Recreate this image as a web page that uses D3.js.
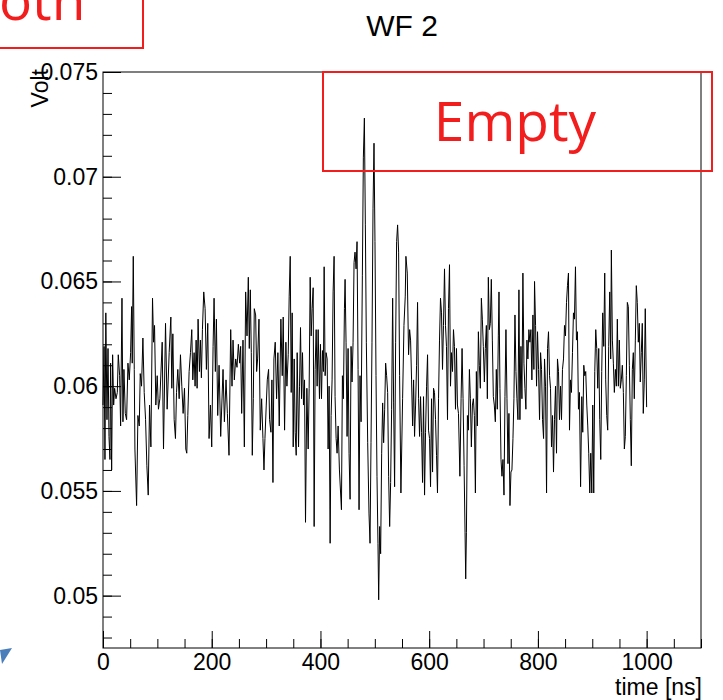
<!DOCTYPE html>
<html>
<head>
<meta charset="utf-8">
<script src="https://cdn.jsdelivr.net/npm/d3@7"></script>
<style>
  body { margin: 0; background: #fff; }
  svg { display: block; }
</style>
</head>
<body>
<svg width="723" height="700"></svg>
<script>
// samples: [time in ns, amplitude in mV]
const waveform = [
  [0, 59.1], [2, 61.9], [3.6, 56.5], [5.2, 63.5], [7.3, 58.4], [9.2, 61.8], [11, 57.6], [12.8, 56.5], [14, 61.1], [15.9, 56.0],
  [17.7, 61.5], [19.6, 59.1], [21.4, 59.9], [23.9, 59.4], [26.3, 59.7], [28.1, 61.5], [30.6, 60.5], [32.4, 58.1], [34.9, 64.2], [36.7, 58.3],
  [38.5, 60.8], [41, 58.7], [43.4, 58.4], [45.9, 61.1], [48.3, 60.3], [50.8, 61.6], [52.6, 63.8], [53.8, 61.1], [55.7, 66.2], [57.5, 60.8],
  [58.7, 57.0], [61.8, 54.3], [64.2, 58.6], [66.7, 58.1], [68.5, 60.6], [70.9, 60.0], [73.4, 62.3], [75.8, 59.7], [78.3, 58.4], [80.7, 56.2],
  [83.2, 54.8], [85.6, 59.1], [88.1, 57.1], [91.1, 64.2], [93, 62.1], [94.8, 62.9], [97.2, 59.1], [99.7, 60.5], [102, 58.9], [104.6, 59.4],
  [108.9, 62.1], [111.3, 57.0], [115, 63.0], [118, 58.9], [121.7, 61.6], [124.8, 63.3], [126.6, 59.9], [128.5, 62.5], [130.9, 58.4], [133.3, 57.5],
  [135.2, 59.7], [137.6, 60.8], [140.1, 59.4], [142.5, 61.5], [145, 60.0], [147.4, 58.7], [149.9, 59.9], [152.3, 57.0], [154.1, 56.8], [156, 58.6],
  [158.4, 60.7], [160.9, 61.6], [163.3, 62.7], [165.2, 60.3], [167.6, 61.6], [169.4, 60.0], [171.3, 62.2], [173.1, 59.9], [174.9, 63.2], [177.4, 60.7],
  [179.2, 62.2], [181, 60.4], [182.9, 62.7], [185.3, 64.5], [187.8, 63.7], [190.2, 60.8], [192.7, 63.0], [195.1, 57.5], [197.6, 59.1], [200, 57.1],
  [202.5, 61.9], [204.3, 64.2], [206.7, 60.7], [208.6, 63.2], [211, 58.6], [213.5, 61.0],
  [216.5, 57.6], [220.8, 60.8], [223.3, 58.3], [226.3, 60.3], [228.8, 58.7], [231.8, 56.7], [234.9, 62.7], [237.3, 60.0], [239.2, 62.2], [241.6, 60.3],
  [244.1, 61.3], [246.5, 60.9], [249, 62.0], [251.4, 61.1], [253.2, 61.9], [255.1, 58.7], [257.5, 62.2], [260, 57.1], [262.4, 64.5], [264.9, 62.4],
  [267.3, 65.2], [269.1, 61.8], [271, 64.6], [272.8, 61.6], [274.6, 56.7], [276.5, 59.4], [278.3, 63.7], [280.8, 63.4], [282.6, 60.7], [284.4, 61.3],
  [286.9, 63.2], [289.3, 57.9], [291.8, 59.4], [294.2, 57.5], [296.1, 56.0], [297.9, 57.5], [300.3, 59.1], [302.2, 60.3], [304.6, 60.8], [306.4, 58.4],
  [308.9, 57.8], [310.7, 60.3], [312.6, 55.4], [314.4, 61.3], [316.8, 62.1], [319.3, 59.4], [321.7, 61.6], [324.2, 58.1],
  [327.2, 63.2], [329.7, 60.5], [331.5, 63.3], [334, 57.9], [336.4, 62.1], [338.3, 60.0], [340.7, 61.5], [342.5, 64.3], [344.4, 66.2], [346.2, 59.7],
  [348, 63.5], [349.9, 57.1], [351.7, 61.3], [353.5, 57.8], [355.4, 56.7], [357.2, 61.6], [359.7, 57.1], [361.5, 60.0], [363.3, 62.8], [365.2, 59.4],
  [367, 61.6], [368.8, 59.1], [370.7, 60.3], [372.5, 53.5], [375, 59.9], [377.4, 57.0], [379.2, 59.9], [381.1, 65.2], [382.9, 62.4], [384.7, 63.7],
  [386.6, 64.7], [388.4, 53.3], [390.2, 60.8], [392.1, 62.7], [393.9, 60.0], [395.8, 62.7], [398.2, 59.4], [400, 62.0], [401.9, 59.4], [403.7, 61.7],
  [405.5, 60.7], [406.8, 65.7], [408.6, 60.5], [410.4, 61.6], [412.3, 61.3], [414.1, 57.0], [415.9, 60.0], [417.8, 52.5], [419.6, 58.6], [421.4, 60.3],
  [423.3, 64.5], [425.1, 66.2], [426.9, 59.5], [428.8, 57.5], [430.6, 56.8], [432.5, 58.1], [434.9, 56.0],
  [438.6, 54.1], [440.4, 60.5], [442.2, 59.4], [444.1, 63.7], [445.3, 65.1], [447.1, 62.1], [449, 57.6], [450.8, 61.8], [452.6, 56.8], [454.5, 54.6],
  [456.3, 61.9], [458.1, 60.2], [460, 62.1], [461.8, 65.9], [463.6, 66.4], [465.5, 65.6], [467.3, 66.9], [469.2, 60.8], [471, 54.1], [472.8, 60.5],
  [474.7, 58.3], [477.1, 65.3], [478.9, 70.9], [480.8, 72.8], [482.6, 67.7], [484.4, 62.1], [486.9, 57.3], [489.3, 53.9], [491.2, 52.5], [493, 57.3],
  [494.8, 62.1], [496.7, 68.5], [498.5, 71.6], [500.3, 66.9], [502.2, 60.5], [504, 55.7], [505.8, 52.5], [507.1, 49.8], [508.9, 53.3], [510.7, 52.0],
  [512.6, 56.8], [514.4, 59.2], [516.2, 57.3], [518.1, 58.9], [519.9, 61.1], [521.7, 60.5], [523.6, 59.7], [525.4, 55.7], [527.3, 53.3], [529.1, 55.4],
  [530.9, 58.9], [532.8, 64.2], [534.6, 59.2], [536.4, 55.2], [538.3, 62.1], [540.1, 66.9], [541.9, 67.7], [543.8, 66.4], [545.6, 60.5],
  [548, 54.9], [551.1, 59.4], [553.6, 62.9], [556, 64.3], [557.2, 66.2], [559.7, 65.4], [562.1, 61.5], [564, 62.7], [565.8, 62.2], [567.6, 60.3],
  [569.5, 58.1], [571.3, 60.3], [573.1, 57.6], [575, 59.1], [576.8, 61.0], [578.6, 64.0], [580.5, 59.4], [582.3, 57.6], [584.1, 59.5], [586, 57.8],
  [587.8, 55.4], [589.6, 59.5], [591.5, 54.8], [593.3, 57.8], [595.2, 60.0], [597, 61.5], [598.8, 57.9], [600.7, 57.5], [602.5, 55.2], [604.3, 59.4],
  [606.2, 55.9], [608, 59.9], [609.8, 59.7], [611.7, 58.4], [613.5, 56.7], [615.3, 54.9], [617.2, 59.4], [619, 62.2], [620.8, 64.2], [622.7, 63.5],
  [624.5, 60.8], [626.3, 62.9], [628.2, 65.6], [630, 62.9], [631.8, 61.9], [633.7, 58.4], [635.5, 63.7], [637.4, 65.8], [639.2, 60.0], [641, 61.6],
  [642.9, 60.7], [644.7, 62.7], [646.5, 61.9], [648.4, 58.9], [650.2, 61.8], [652, 59.1], [653.9, 58.7],
  [656.5, 55.7], [658.7, 59.4], [660.5, 61.8], [662.3, 59.4], [664.2, 56.2], [666, 53.0], [667.2, 50.8], [668.5, 53.0], [670.3, 58.6], [672.1, 57.9],
  [674, 60.8], [675.8, 59.4], [677.6, 57.1], [679.5, 59.1], [681.3, 59.4], [683.1, 58.6], [685, 54.9], [686.8, 60.7], [688.6, 58.1], [690.5, 62.6],
  [692.3, 61.0], [694.1, 59.9], [696, 64.2], [697.8, 63.2], [699.6, 61.9], [701.5, 60.2], [703.3, 61.8], [705.2, 62.9], [707, 59.4], [708.8, 65.2],
  [710.7, 62.7], [712.5, 63.0], [714.3, 65.1], [716.2, 62.2], [718, 59.5], [719.8, 59.1], [721.7, 58.3], [723.5, 60.8], [725.3, 58.9], [727.2, 62.4],
  [728.4, 64.5], [730.2, 59.9], [732.1, 56.5], [733.9, 55.7], [735.7, 56.5], [737.6, 54.8], [739.4, 59.5], [741.2, 62.7], [743.1, 59.4], [744.9, 56.3],
  [746.7, 58.7], [748.6, 54.3], [750.4, 55.9], [752.2, 56.0], [754.1, 57.5], [755.9, 59.4], [757.8, 63.4], [759.6, 60.7], [761.4, 59.4], [763.3, 58.4],
  [765.1, 64.6],
  [766.9, 58.4], [768.8, 61.9], [770.6, 59.4], [772.4, 65.4], [774.3, 61.1], [776.1, 59.9], [777.9, 58.9], [779.8, 62.2], [781.6, 61.3], [783.4, 62.7],
  [785.3, 62.1], [787.1, 62.7], [788.9, 60.3], [790.8, 63.4], [792.6, 60.8], [793.8, 65.0], [795.7, 62.9], [797.5, 60.0], [799.3, 62.6], [801.2, 60.8],
  [803, 58.4], [804.9, 61.6], [806.7, 60.8], [808.5, 58.4], [810.4, 57.5], [812.2, 61.3], [814, 60.0], [815.9, 54.9], [817.7, 61.8], [819.5, 62.6],
  [821.4, 60.5], [823.2, 59.9], [825, 57.1], [826.9, 58.6], [828.7, 55.9], [830.5, 58.4], [832.4, 60.0], [834.2, 56.8], [836, 61.3], [837.9, 60.7],
  [839.7, 58.4], [841.6, 60.0], [843.4, 58.4], [845.2, 60.8], [847.1, 61.3], [848.9, 62.9], [850.7, 62.4], [852.6, 64.0], [854.4, 64.8], [856.2, 65.4],
  [858.1, 57.9], [859.9, 60.3], [861.7, 59.7], [863.6, 61.6], [865.4, 63.5], [867.2, 63.2], [869.1, 65.7], [870.9, 62.2], [872.7, 62.6], [874.6, 58.9],
  [876.4, 59.7],
  [878.5, 55.2], [880.7, 59.5], [882.5, 57.8], [884.4, 61.0], [886.2, 60.5], [888, 60.7], [889.9, 59.1], [891.7, 58.1], [893.5, 56.8], [895.4, 54.9],
  [897.2, 56.8], [899.1, 54.9], [900.9, 59.1], [902.7, 54.9], [904.6, 60.7], [906.4, 62.7], [908.2, 61.8], [910.1, 59.9], [911.9, 61.8], [913.7, 58.4],
  [915.6, 56.5], [917.4, 60.7], [919.2, 63.5], [921.1, 61.9], [922.9, 65.4], [924.7, 60.3], [926.6, 58.6], [928.4, 57.9], [930.2, 61.9], [932.1, 64.5],
  [933.9, 61.3], [935.1, 66.5], [937, 62.2], [938.8, 61.1], [940.6, 59.7], [942.5, 60.8], [944.3, 60.0], [946.1, 63.2], [948, 60.0], [949.8, 62.2],
  [951.6, 59.9], [953.5, 60.3], [955.3, 61.0], [957.2, 59.7], [959, 57.0], [960.8, 57.6], [962.7, 60.5], [964.5, 64.0], [966.3, 63.8], [968.2, 61.0],
  [970, 58.4], [971.8, 56.2], [973.7, 60.8], [975.5, 61.6], [977.3, 59.4], [979.2, 62.2], [981, 64.8], [982.8, 64.0], [984.7, 62.1], [986.5, 63.0],
  [988.3, 60.2], [990.2, 61.6], [992, 63.0], [993.8, 58.7], [995.7, 60.3], [997.5, 63.7], [1000, 59.0]
];

const xMajorTicks = [0, 200, 400, 600, 800, 1000];
const xMinorTicks = d3.range(0, 1101, 50);
const yMajorTicks = [0.05, 0.055, 0.06, 0.065, 0.07, 0.075];
const yTickLabels = ["0.05", "0.055", "0.06", "0.065", "0.07", "0.075"];
const yMinorTicks = d3.range(48, 76, 1).map(d => d / 1000);

const chartTitle = "WF 2";
const xTitle = "time [ns]";
const yTitle = "Volt";

// frame of the pad
const frame = { left: 103, right: 701, top: 72, bottom: 648 };

const svg = d3.select("svg");
svg.append("rect").attr("width", 723).attr("height", 700).attr("fill", "#fff");

const x = d3.scaleLinear().domain([0, 1100]).range([frame.left, frame.right]);
const y = d3.scaleLinear().domain([0.0475, 0.075]).range([frame.bottom, frame.top]);

const font = "'Liberation Sans', Arial, Helvetica, sans-serif";

// trace
const line = d3.line()
    .x(d => x(d[0]))
    .y(d => y(d[1] / 1000));

svg.append("path")
    .datum(waveform)
    .attr("fill", "none")
    .attr("stroke", "#000")
    .attr("stroke-width", 1)
    .attr("d", line);

// frame box
svg.append("rect")
    .attr("x", frame.left)
    .attr("y", frame.top)
    .attr("width", frame.right - frame.left)
    .attr("height", frame.bottom - frame.top)
    .attr("fill", "none")
    .attr("stroke", "#000")
    .attr("stroke-width", 1);

// x axis, ticks pointing into the frame
svg.append("g")
    .attr("transform", `translate(0,${frame.bottom})`)
    .call(d3.axisBottom(x).tickValues(xMinorTicks).tickSize(-9).tickFormat(""))
    .call(g => g.select(".domain").remove());

svg.append("g")
    .attr("transform", `translate(0,${frame.bottom})`)
    .call(d3.axisBottom(x).tickValues(xMajorTicks).tickSize(-17).tickPadding(6).tickFormat(d3.format("d")))
    .call(g => g.select(".domain").remove())
    .call(g => g.selectAll("text").attr("font-family", font).attr("font-size", 23).attr("fill", "#000"));

// y axis
svg.append("g")
    .attr("transform", `translate(${frame.left},0)`)
    .call(d3.axisLeft(y).tickValues(yMinorTicks).tickSize(-9).tickFormat(""))
    .call(g => g.select(".domain").remove());

svg.append("g")
    .attr("transform", `translate(${frame.left},0)`)
    .call(d3.axisLeft(y).tickValues(yMajorTicks).tickSize(-18).tickPadding(5)
        .tickFormat((d, i) => yTickLabels[i]))
    .call(g => g.select(".domain").remove())
    .call(g => g.selectAll("text").attr("font-family", font).attr("font-size", 23).attr("fill", "#000"));

svg.selectAll(".tick line").attr("stroke", "#000");

// titles
svg.append("text")
    .attr("x", 402)
    .attr("y", 36)
    .attr("text-anchor", "middle")
    .attr("font-family", font)
    .attr("font-size", 30)
    .text(chartTitle);

svg.append("text")
    .attr("x", frame.right + 1)
    .attr("y", 695)
    .attr("text-anchor", "end")
    .attr("font-family", font)
    .attr("font-size", 23)
    .text(xTitle);

svg.append("text")
    .attr("transform", `translate(48,${frame.top - 3}) rotate(-90)`)
    .attr("text-anchor", "end")
    .attr("font-family", font)
    .attr("font-size", 23)
    .text(yTitle);

// slide annotations laid over the plot
const red = "#f21d1d";
const noteFont = "'Open Sans', 'Noto Sans', sans-serif";

svg.append("rect")
    .attr("x", -10).attr("y", -10)
    .attr("width", 153).attr("height", 58)
    .attr("fill", "none").attr("stroke", red).attr("stroke-width", 2);

svg.append("text")
    .attr("x", -1).attr("y", 20)
    .attr("font-family", noteFont).attr("font-size", 55)
    .attr("fill", red)
    .text("oth");

svg.append("rect")
    .attr("x", 323).attr("y", 72)
    .attr("width", 389).attr("height", 99)
    .attr("fill", "none").attr("stroke", red).attr("stroke-width", 2);

svg.append("text")
    .attr("x", 515).attr("y", 141)
    .attr("text-anchor", "middle")
    .attr("font-family", noteFont).attr("font-size", 55)
    .attr("fill", red)
    .text("Empty");

svg.append("polygon")
    .attr("points", "0,650 12,648 2,664")
    .attr("fill", "#4a7ebb");
</script>
</body>
</html>
